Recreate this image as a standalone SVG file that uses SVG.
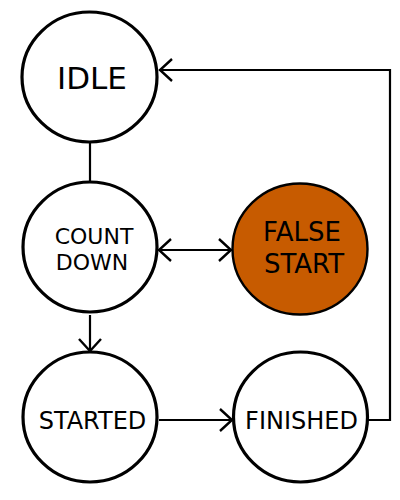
<svg xmlns="http://www.w3.org/2000/svg" width="400" height="500" viewBox="0 0 400 500">
<defs>
<marker id="arr" viewBox="0 0 16 26" refX="15" refY="13" markerWidth="16" markerHeight="26" markerUnits="userSpaceOnUse" orient="auto-start-reverse">
<path d="M2,2 L14,13 L2,24" fill="none" stroke="#000" stroke-width="2.4"/>
</marker>
<style>
.node ellipse{fill:#fff;stroke:#000;stroke-width:3.2}
.node text{font-family:"DejaVu Sans",sans-serif;text-anchor:middle;fill:#000}
.edge{fill:none;stroke:#000;stroke-width:2.2}
</style>
</defs>
<rect width="400" height="500" fill="#fff"/>
<g id="connectors">
<line class="edge" x1="90" y1="143" x2="90" y2="181"/>
<line class="edge" x1="158" y1="250" x2="232" y2="250" marker-start="url(#arr)" marker-end="url(#arr)"/>
<line class="edge" x1="90" y1="315" x2="90" y2="352" marker-end="url(#arr)"/>
<line class="edge" x1="159" y1="420" x2="233" y2="420" marker-end="url(#arr)"/>
<polyline class="edge" points="368,420 390,420 390,70 159,70" marker-end="url(#arr)"/>
</g>
<g id="idle" class="node">
<ellipse cx="89.5" cy="77" rx="67.5" ry="65"/>
<text x="92" y="89" font-size="31">IDLE</text>
</g>
<g id="countdown" class="node">
<ellipse cx="90" cy="247" rx="67" ry="65"/>
<text x="94" y="244" font-size="22">COUNT</text>
<text x="92" y="270" font-size="22">DOWN</text>
</g>
<g id="falsestart" class="node">
<ellipse cx="300" cy="249" rx="67.5" ry="65.5" style="fill:#c75b00;stroke-width:2.4"/>
<text x="302" y="241" font-size="26">FALSE</text>
<text x="304" y="273" font-size="26">START</text>
</g>
<g id="started" class="node">
<ellipse cx="90" cy="417" rx="67" ry="65"/>
<text x="92.5" y="429" font-size="24">STARTED</text>
</g>
<g id="finished" class="node">
<ellipse cx="300.5" cy="417" rx="67" ry="65"/>
<text x="301.5" y="429" font-size="24">FINISHED</text>
</g>
</svg>
